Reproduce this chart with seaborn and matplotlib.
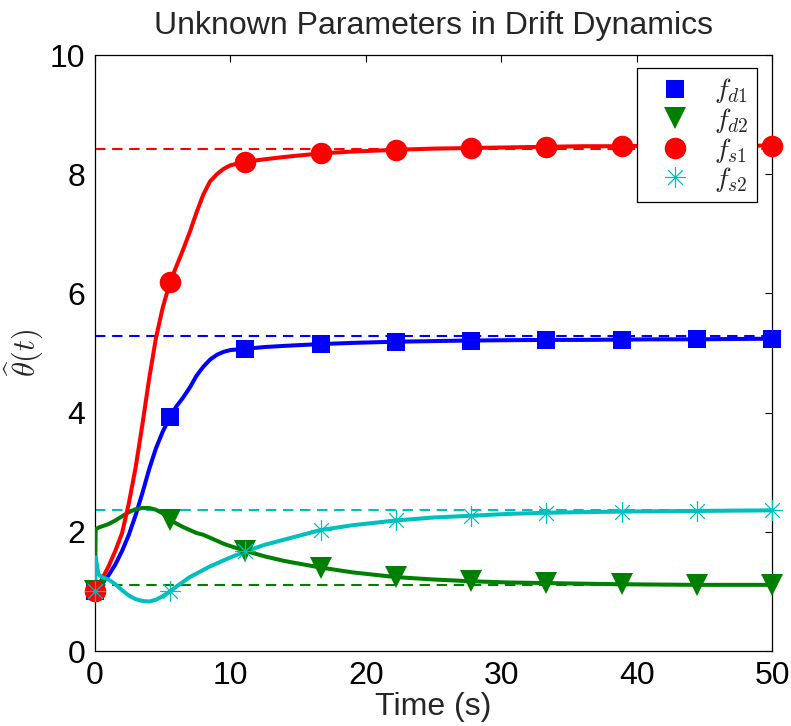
import numpy as np
import pandas as pd
import seaborn as sns
import matplotlib
matplotlib.use("Agg")
import matplotlib.pyplot as plt
from matplotlib.path import Path
from matplotlib.lines import Line2D

# Time samples of the estimator trajectories (s)
t = [0, 0.05, 0.25, 0.5, 1.0, 1.5, 2.0, 2.5, 3.0, 3.5, 4.0, 4.5, 5.0, 5.556,
     6.0, 6.5, 7.0, 7.5, 8.0, 8.5, 9.0, 9.5, 10.0, 11.111, 12.5, 14.0,
     16.667, 19.0, 22.222, 25.0, 27.778, 30.5, 33.333, 36.0, 38.889, 41.5,
     44.444, 47.0, 50.0]

# Parameter estimates
f_d1 = [1.0, 1.0, 1.06, 1.12, 1.27, 1.45, 1.68, 1.95, 2.28, 2.65, 3.05, 3.4,
        3.68, 3.93, 4.1, 4.25, 4.42, 4.62, 4.77, 4.89, 4.97, 5.02, 5.05, 5.07,
        5.10, 5.12, 5.15, 5.17, 5.19, 5.20, 5.21, 5.215, 5.22, 5.22, 5.225,
        5.23, 5.23, 5.235, 5.24]
f_d2 = [1.0, 2.04, 2.07, 2.09, 2.13, 2.19, 2.26, 2.33, 2.38, 2.40, 2.40, 2.37,
        2.31, 2.2, 2.14, 2.08, 2.03, 1.98, 1.95, 1.9, 1.85, 1.8, 1.76, 1.68,
        1.59, 1.51, 1.40, 1.32, 1.24, 1.2, 1.17, 1.15, 1.14, 1.13, 1.12,
        1.115, 1.11, 1.11, 1.11]
f_s1 = [1.0, 1.0, 1.1, 1.2, 1.42, 1.68, 1.98, 2.48, 3.08, 3.8, 4.57, 5.25,
        5.76, 6.2, 6.45, 6.73, 7.03, 7.36, 7.66, 7.88, 8.0, 8.09, 8.15, 8.21,
        8.25, 8.29, 8.35, 8.38, 8.41, 8.43, 8.44, 8.45, 8.46, 8.47, 8.47,
        8.48, 8.48, 8.48, 8.48]
f_s2 = [1.0, 1.57, 1.29, 1.24, 1.2, 1.12, 1.02, 0.93, 0.87, 0.84, 0.83, 0.86,
        0.92, 1.0, 1.08, 1.16, 1.24, 1.3, 1.36, 1.42, 1.47, 1.52, 1.57, 1.67,
        1.78, 1.87, 2.03, 2.11, 2.19, 2.24, 2.27, 2.3, 2.32, 2.33, 2.34,
        2.345, 2.35, 2.355, 2.36]

# True parameter values (dashed references)
true_vals = {"fd1": 5.29, "fd2": 1.11, "fs1": 8.43, "fs2": 2.36}

# Times at which markers are placed
mark_t = [0, 5.556, 11.111, 16.667, 22.222, 27.778, 33.333, 38.889, 44.444, 50.0]

names = ["fd1", "fd2", "fs1", "fs2"]
labels = [r"$f_{d1}$", r"$f_{d2}$", r"$f_{s1}$", r"$f_{s2}$"]
colors = {"fd1": (0, 0, 1), "fd2": (0, 0.5, 0), "fs1": (1, 0, 0), "fs2": (0, 0.75, 0.75)}

df = pd.concat(
    [pd.DataFrame({"t": t, "value": v, "param": n})
     for n, v in zip(names, [f_d1, f_d2, f_s1, f_s2])],
    ignore_index=True)
marks = df[df["t"].apply(lambda x: any(np.isclose(x, m) for m in mark_t))]

sns.set_style("white")
plt.rcParams["font.family"] = ["Liberation Sans", "DejaVu Sans"]
plt.rcParams["mathtext.fontset"] = "cm"

# Eight-armed asterisk marker drawn as line strokes
s = np.sqrt(0.5)
star = Path([(-1, 0), (1, 0), (0, -1), (0, 1), (-s, -s), (s, s), (-s, s), (s, -s)],
            [Path.MOVETO, Path.LINETO] * 4)

marker_style = {
    "fd1": dict(marker="s", markersize=12.5, markeredgewidth=0),
    "fd2": dict(marker="v", markersize=16.5, markeredgewidth=0),
    "fs1": dict(marker="o", markersize=15.5, markeredgewidth=0),
    "fs2": dict(marker=star, markersize=15, markeredgewidth=0.9,
                markerfacecolor="none"),
}

fig = plt.figure(figsize=(7.91, 7.26), dpi=100)
ax = fig.add_axes([0.1201, 0.1033, 0.8559, 0.8209])

# Reference values
for n in names:
    sns.lineplot(x=[0, 50], y=[true_vals[n]] * 2, ax=ax, color=colors[n],
                 linewidth=1.5, dashes=False, linestyle=(0, (5, 3.2)), zorder=2)

# Estimated trajectories
sns.lineplot(data=df, x="t", y="value", hue="param", palette=colors,
             hue_order=names, estimator=None, linewidth=2.9, legend=False,
             ax=ax, zorder=3)

# Markers at sampled times
for n in names:
    sub = marks[marks["param"] == n]
    st = marker_style[n]
    sns.lineplot(data=sub, x="t", y="value", ax=ax, estimator=None,
                 linestyle="none", color=colors[n],
                 markeredgecolor=colors[n], clip_on=False, zorder=4, **st)

ax.set_xlim(0, 50)
ax.set_ylim(0, 10)
ax.set_xticks([0, 10, 20, 30, 40, 50])
ax.set_yticks([0, 2, 4, 6, 8, 10])
ax.tick_params(direction="in", length=5, width=0.8, labelsize=23,
               top=True, right=True, colors="black", pad=7)
for sp in ax.spines.values():
    sp.set_visible(True)
    sp.set_color("black")
    sp.set_linewidth(0.9)

ax.set_title("Unknown Parameters in Drift Dynamics", fontsize=23, pad=15)
ax.set_xlabel("Time (s)", fontsize=23, labelpad=1)
ax.set_ylabel(r"$\widehat{\theta}(t)$", fontsize=22)
ax.yaxis.set_label_coords(-0.074, 0.5)

handles = []
for n, lab in zip(names, labels):
    st = dict(marker_style[n])
    handles.append(Line2D([], [], linestyle="none", color=colors[n],
                          markeredgecolor=colors[n], label=lab, **st))
leg = ax.legend(handles=handles, loc="upper right",
                bbox_to_anchor=(0.978, 0.978), borderaxespad=0,
                fontsize=20, frameon=True, fancybox=False, framealpha=1,
                edgecolor="black", handlelength=2.2, handletextpad=0.3,
                labelspacing=0.02, borderpad=0.3)
leg.get_frame().set_linewidth(0.9)
leg.set_zorder(5)

fig.savefig("out.png", dpi=100)
